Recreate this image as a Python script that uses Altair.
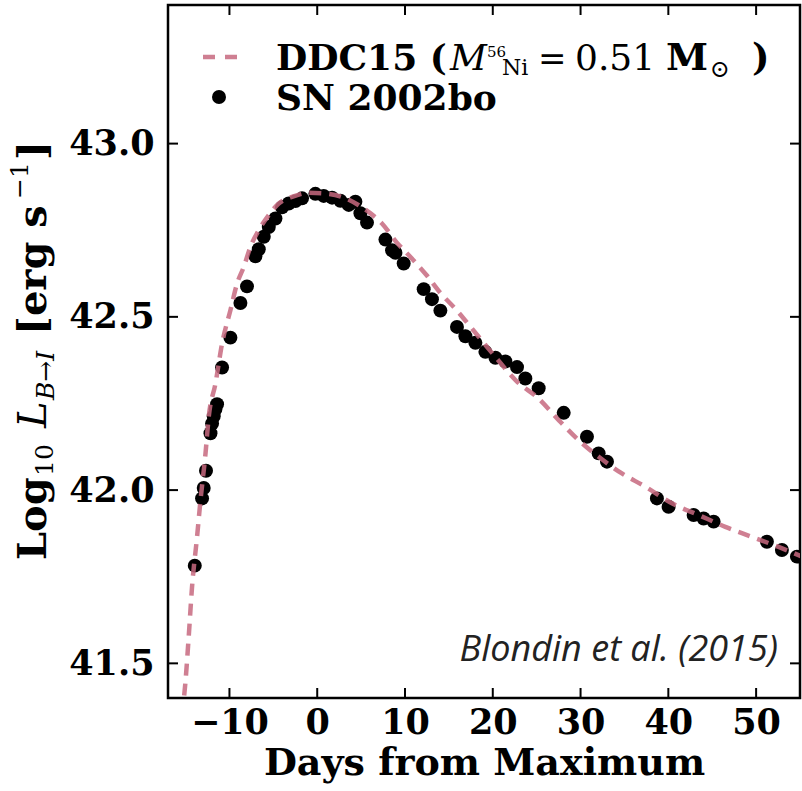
import altair as alt
import pandas as pd

# ---- data ----
sn_day = [-13.95, -13.12, -12.93, -12.67, -12.16, -11.98, -11.79, -11.59, -11.41, -10.84,
          -9.89, -8.75, -8.00, -7.04, -6.66, -6.09, -5.52, -4.76, -4.01, -3.25,
          -2.48, -1.73, -0.21, 0.74, 1.69, 2.64, 3.59, 4.35, 4.92, 5.67,
          7.77, 8.52, 8.91, 9.85, 12.13, 13.07, 14.03, 15.92, 16.88, 18.02,
          19.16, 20.30, 21.44, 22.76, 23.71, 25.23, 28.08, 30.73, 32.06, 33.01,
          38.70, 40.03, 42.88, 44.02, 45.16, 51.23, 52.94, 54.65]
sn_lum = [41.782, 41.976, 42.006, 42.056, 42.164, 42.192, 42.213, 42.234, 42.248, 42.354,
          42.440, 42.540, 42.588, 42.675, 42.695, 42.731, 42.759, 42.784, 42.816, 42.827,
          42.834, 42.842, 42.855, 42.849, 42.844, 42.835, 42.823, 42.832, 42.799, 42.772,
          42.723, 42.692, 42.685, 42.654, 42.580, 42.551, 42.518, 42.471, 42.444, 42.425,
          42.399, 42.382, 42.371, 42.355, 42.322, 42.294, 42.223, 42.154, 42.106, 42.082,
          41.976, 41.952, 41.928, 41.918, 41.909, 41.851, 41.827, 41.808]

model_day = [-15.4, -15.01, -14.64, -14.26, -13.69, -13.30, -12.73, -12.36, -11.59, -10.84,
             -9.89, -9.13, -8.37, -7.61, -6.66, -5.52, -4.38, -2.87, -0.97, 0.93,
             2.82, 4.73, 6.0, 7.35, 9.05, 10.76, 12.47, 14.07, 15.89, 17.60,
             19.19, 20.90, 22.60, 25.23, 27.51, 29.78, 32.06, 34.71, 37.38, 40.41,
             43.45, 46.49, 49.52, 52.56, 55.5]
model_lum = [41.35, 41.447, 41.577, 41.721, 41.865, 41.970, 42.105, 42.211, 42.308, 42.423,
             42.519, 42.596, 42.644, 42.702, 42.750, 42.794, 42.827, 42.846, 42.858, 42.856,
             42.846, 42.822, 42.800, 42.770, 42.715, 42.669, 42.620, 42.568, 42.519, 42.467,
             42.418, 42.366, 42.317, 42.264, 42.202, 42.144, 42.096, 42.048, 42.010, 41.962,
             41.928, 41.894, 41.865, 41.836, 41.805]

x_ticks = [-10, 0, 10, 20, 30, 40, 50]
y_ticks = [41.5, 42.0, 42.5, 43.0]
x_domain = [-17, 55]
y_domain = [41.4, 43.4]

W, H = 632, 693
LEFT, TOP = 168, 5
PINK = "#c7697f"
SERIF = "DejaVu Serif"

sn = pd.DataFrame({"day": sn_day, "lum": sn_lum})
model = pd.DataFrame({"day": model_day, "lum": model_lum})
xt = pd.DataFrame({"t": x_ticks})
yt = pd.DataFrame({"t": y_ticks})
dummy = pd.DataFrame({"k": [0]})

xscale = alt.Scale(domain=x_domain, nice=False, zero=False)
yscale = alt.Scale(domain=y_domain, nice=False, zero=False)

x_axis = alt.Axis(values=x_ticks, ticks=False, domain=False, grid=False,
                  labelFont=SERIF, labelFontWeight="bold", labelFontSize=35,
                  labelColor="black", labelPadding=7,
                  labelExpr="replace(datum.label, '-', '\u2212')",
                  title="Days from Maximum", titleFont=SERIF, titleFontWeight="bold",
                  titleFontSize=38, titleColor="black", titlePadding=4)
y_axis = alt.Axis(values=y_ticks, ticks=False, domain=False, grid=False, format=".1f",
                  labelFont=SERIF, labelFontWeight="bold", labelFontSize=35,
                  labelColor="black", labelPadding=14, title=None)

X = alt.X("day:Q", scale=xscale, axis=x_axis)
Y = alt.Y("lum:Q", scale=yscale, axis=y_axis)

points = alt.Chart(sn).mark_circle(size=195, color="black", opacity=1, clip=True).encode(x=X, y=Y)
line = alt.Chart(model).mark_line(color=PINK, strokeWidth=4.5, strokeDash=[12, 8],
                                  opacity=0.85, clip=True, interpolate="monotone").encode(x=X, y=Y)

xt_enc = alt.X("t:Q", scale=xscale, axis=x_axis)
yt_enc = alt.Y("t:Q", scale=yscale, axis=y_axis)
tick_b = alt.Chart(xt).mark_rule(color="black", strokeWidth=2).encode(x=xt_enc, y=alt.value(H), y2=alt.value(H - 10))
tick_t = alt.Chart(xt).mark_rule(color="black", strokeWidth=2).encode(x=xt_enc, y=alt.value(0), y2=alt.value(10))
tick_l = alt.Chart(yt).mark_rule(color="black", strokeWidth=2).encode(y=yt_enc, x=alt.value(0), x2=alt.value(10))
tick_r = alt.Chart(yt).mark_rule(color="black", strokeWidth=2).encode(y=yt_enc, x=alt.value(W), x2=alt.value(W - 10))


def txt(s, x, y, size, weight="bold", style="normal", font=SERIF, angle=0, align="left", color="black"):
    kw = dict(font=font, fontSize=size, fontWeight=weight, fontStyle=style,
              align=align, baseline="alphabetic", color=color)
    if angle:
        kw["angle"] = angle
    return alt.Chart(dummy).mark_text(**kw).encode(
        x=alt.value(x - LEFT), y=alt.value(y - TOP), text=alt.value(s))


# legend (absolute page coordinates)
leg_line = alt.Chart(dummy).mark_rule(color=PINK, strokeWidth=4.5, strokeDash=[12, 10], opacity=0.85).encode(
    x=alt.value(203 - LEFT), x2=alt.value(240 - LEFT), y=alt.value(57 - TOP))
leg_dot = alt.Chart(dummy).mark_circle(size=195, color="black", opacity=1).encode(
    x=alt.value(219 - LEFT), y=alt.value(97 - TOP))
L1 = 70
leg_texts = [
    txt("DDC15 (", 276, L1, 36),
    txt("M", 450, L1, 36, weight="normal", style="italic"),
    txt("56", 487, L1 - 13, 15, weight="normal"),
    txt("Ni", 502, L1 + 5, 22, weight="normal"),
    txt("=", 538, L1, 34, weight="normal"),
    txt("0.51", 575, L1, 36, weight="normal"),
    txt("M", 666, L1, 38),
    txt("\u2299", 710, L1 + 7, 24, weight="normal"),
    txt(")", 752, L1, 37),
    txt("SN 2002bo", 276, 110, 36),
]

# y-axis title pieces (rotated, reading bottom to top)
YB = 46
ytitle = [
    txt("Log", YB, 560, 40, angle=270),
    txt("10", YB + 7, 476, 25, weight="normal", angle=270),
    txt("L", YB, 428, 40, weight="normal", style="italic", angle=270),
    txt("B\u2192I", YB + 8, 400, 25, weight="normal", style="italic", angle=270),
    txt("[erg s", YB, 335, 40, angle=270),
    txt("\u22121", YB - 18, 199, 25, weight="normal", angle=270),
    txt("]", YB, 160, 40, angle=270),
]

credit = txt("Blondin et al. (2015)", 778, 661, 36, weight="normal", style="italic",
             font="Open Sans", align="right", color="#222222")

chart = alt.layer(points, line, tick_b, tick_t, tick_l, tick_r, leg_line, leg_dot,
                  *leg_texts, *ytitle, credit).properties(
    width=W, height=H,
    padding={"left": LEFT, "top": TOP, "right": 802 - LEFT - W, "bottom": 791 - TOP - H},
    autosize=alt.AutoSizeParams(type="none"),
    background="white",
).configure_view(stroke="black", strokeWidth=2.5)

chart.save("out.html", embed_options={"renderer": "svg", "actions": False})
